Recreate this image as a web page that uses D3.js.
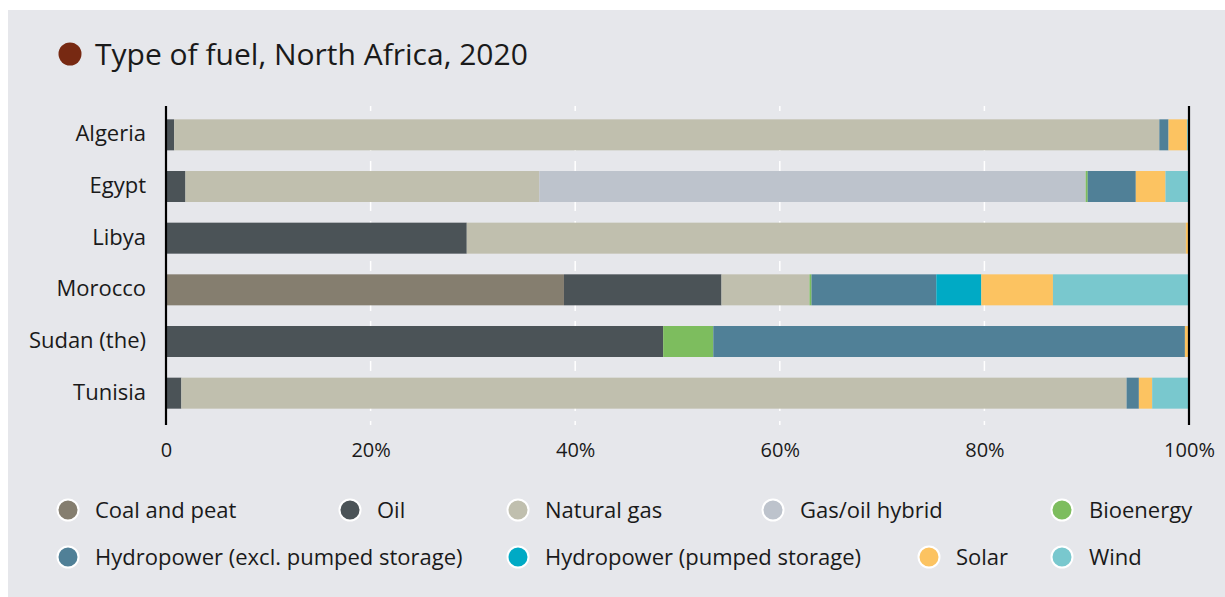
<!DOCTYPE html>
<html>
<head>
<meta charset="utf-8">
<script src="https://cdn.jsdelivr.net/npm/d3@7"></script>
<style>
  html, body { margin: 0; padding: 0; background: #ffffff; }
  svg { display: block; font-family: "Open Sans", "Liberation Sans", sans-serif; }
</style>
</head>
<body>
<svg id="chart" width="1225" height="597"></svg>
<script>
// ---- Data (percent share of generation, 2020) ----
const countries = ["Algeria", "Egypt", "Libya", "Morocco", "Sudan (the)", "Tunisia"];
const fuels = ["Coal and peat", "Oil", "Natural gas", "Gas/oil hybrid", "Bioenergy",
               "Hydropower (excl. pumped storage)", "Hydropower (pumped storage)", "Solar", "Wind"];
const fuelColors = ["#857e6f", "#4b5357", "#c0bfae", "#bdc3cc", "#7dbd5e",
                    "#508097", "#00aac5", "#fcc361", "#79c8ce"];
const coalAndPeat   = [0,    0,    0,    38.9, 0,    0];
const oil           = [0.8,  1.9,  29.4, 15.4, 48.6, 1.5];
const naturalGas    = [96.3, 34.6, 70.3, 8.6,  0,    92.4];
const gasOilHybrid  = [0,    53.4, 0,    0,    0,    0];
const bioenergy     = [0,    0.2,  0,    0.2,  4.9,  0];
const hydroExcl     = [0.9,  4.7,  0,    12.2, 46.1, 1.2];
const hydroPumped   = [0,    0,    0,    4.4,  0,    0];
const solar         = [1.8,  2.9,  0.3,  7.0,  0.4,  1.3];
const wind          = [0.2,  2.3,  0,    13.3, 0,    3.6];
const xTicks = [0, 20, 40, 60, 80, 100];
const xTickLabels = ["0", "20%", "40%", "60%", "80%", "100%"];
const title = "Type of fuel, North Africa, 2020";

const seriesValues = [coalAndPeat, oil, naturalGas, gasOilHybrid, bioenergy,
                      hydroExcl, hydroPumped, solar, wind];

// ---- Build table ----
const rows = countries.map((c, i) => {
  const r = { country: c };
  fuels.forEach((f, j) => { r[f] = seriesValues[j][i]; });
  return r;
});
const stacked = d3.stack().keys(fuels)(rows);

const svg = d3.select("#chart");
const W = 1225, H = 597;
const FONT = "'Open Sans', 'Liberation Sans', sans-serif";

// background panel
svg.append("rect").attr("x", 8).attr("y", 10).attr("width", W - 8).attr("height", H - 10)
  .attr("fill", "#e6e7eb");

// title
svg.append("circle").attr("cx", 70).attr("cy", 54).attr("r", 11.5).attr("fill", "#772912");
svg.append("text").attr("x", 95).attr("y", 65).attr("font-size", 30).attr("fill", "#1a1a1a")
  .text(title);

// scales
const x = d3.scaleLinear().domain([0, 100]).range([166, 1189]);
const y = d3.scaleBand().domain(countries).range([109, 419]).paddingInner(0.4).paddingOuter(0.2);

const plotTop = 106, plotBottom = 425;

// gridlines (dashed white) for inner ticks
svg.append("g").selectAll("line").data(xTicks.filter(t => t > 0 && t < 100)).join("line")
  .attr("x1", d => x(d)).attr("x2", d => x(d))
  .attr("y1", plotTop).attr("y2", plotBottom)
  .attr("stroke", "#ffffff").attr("stroke-width", 1.5)
  .attr("stroke-dasharray", "10,10").attr("stroke-dashoffset", 5);

// bars
svg.append("g").selectAll("g").data(stacked).join("g")
  .attr("fill", (d, i) => fuelColors[i])
  .selectAll("rect").data(d => d).join("rect")
  .attr("x", d => x(d[0]))
  .attr("width", d => Math.max(0, x(d[1]) - x(d[0])))
  .attr("y", d => y(d.data.country))
  .attr("height", y.bandwidth());

// 0 and 100% lines
svg.append("g").selectAll("line").data([0, 100]).join("line")
  .attr("x1", d => x(d)).attr("x2", d => x(d))
  .attr("y1", plotTop).attr("y2", plotBottom)
  .attr("stroke", "#000000").attr("stroke-width", 2.2);

// x axis labels
const xAxis = d3.axisBottom(x).tickValues(xTicks).tickFormat((d, i) => xTickLabels[i]).tickSize(0).tickPadding(0);
const gx = svg.append("g").attr("transform", `translate(0, ${plotBottom + 18})`).call(xAxis);
gx.select(".domain").remove();
gx.selectAll("text").attr("font-size", 20).attr("fill", "#1a1a1a").attr("font-family", FONT);

// y axis labels
const yAxis = d3.axisLeft(y).tickSize(0).tickPadding(0);
const gy = svg.append("g").attr("transform", "translate(146,0)").call(yAxis);
gy.select(".domain").remove();
gy.selectAll("text").attr("font-size", 22).attr("fill", "#1a1a1a").attr("font-family", FONT)
  .attr("dy", "0.3em");

// legend
const legendPos = [
  [68, 510], [350, 510], [518, 510], [773, 510], [1062, 510],
  [68, 557], [518, 557], [929, 557], [1062, 557]
];
const lg = svg.append("g").selectAll("g").data(fuels).join("g")
  .attr("transform", (d, i) => `translate(${legendPos[i][0]}, ${legendPos[i][1]})`);
lg.append("circle").attr("r", 10.5).attr("fill", (d, i) => fuelColors[i])
  .attr("stroke", "#ffffff").attr("stroke-width", 2);
lg.append("text").attr("x", 27).attr("dy", "0.35em").attr("font-size", 22).attr("fill", "#1a1a1a")
  .text(d => d);
</script>
</body>
</html>
